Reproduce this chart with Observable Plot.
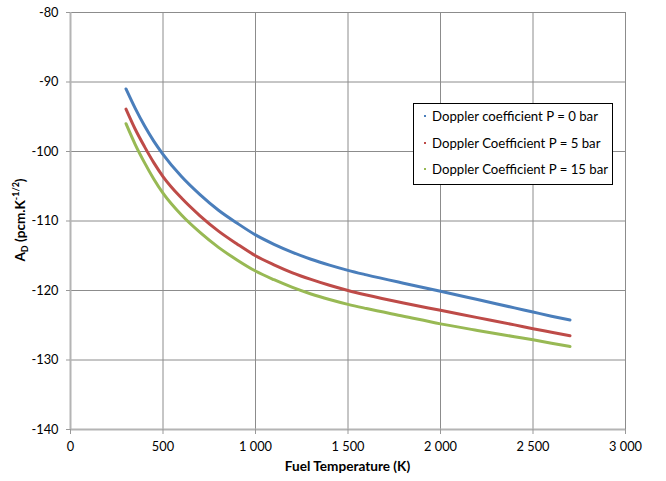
<!DOCTYPE html>
<html>
<head>
<meta charset="utf-8">
<script src="https://cdn.jsdelivr.net/npm/d3@7"></script>
<script src="https://cdn.jsdelivr.net/npm/@observablehq/plot@0.6"></script>
<style>
  body { margin: 0; background: #fff; }
  #wrap { position: relative; width: 666px; height: 481px; font-family: Lato, "Open Sans", sans-serif; }
  #legend { position: absolute; left: 413px; top: 103px; width: 198px; height: 80px;
    border: 1.5px solid #000; background: #fff; font-size: 13.2px; color: #000; }
  .row { position: absolute; left: 0; height: 16px; line-height: 16px; }
  .mk { position: absolute; left: 10px; top: 7px; width: 2px; height: 2px; }
  .lb { position: absolute; left: 18px; top: 0; white-space: nowrap; }
</style>
</head>
<body>
<div id="wrap"></div>
<script>
// Fuel temperature (K)
const temps = [300, 350, 400, 450, 500, 600, 700, 800, 900, 1000, 1100, 1200, 1300, 1400, 1500, 1600, 1800, 2000, 2200, 2400, 2500, 2600, 2700];
// Doppler coefficient (pcm.K^-1/2)
const p0bar  = [-91.0, -93.8, -96.3, -98.5, -100.4, -103.6, -106.2, -108.45, -110.3, -112.0, -113.35, -114.5, -115.5, -116.35, -117.1, -117.75, -118.95, -120.1, -121.3, -122.5, -123.1, -123.7, -124.25];
const p5bar  = [-93.9, -96.8, -99.3, -101.6, -103.6, -106.7, -109.25, -111.45, -113.3, -115.0, -116.3, -117.45, -118.4, -119.25, -120.0, -120.65, -121.8, -122.85, -123.9, -124.95, -125.5, -126.0, -126.5];
const p15bar = [-96.0, -99.0, -101.6, -103.95, -106.0, -109.15, -111.65, -113.8, -115.6, -117.2, -118.45, -119.55, -120.5, -121.3, -122.0, -122.6, -123.7, -124.8, -125.75, -126.65, -127.1, -127.6, -128.05];
const seriesNames = ["Doppler coefficient P = 0 bar", "Doppler Coefficient P = 5 bar", "Doppler Coefficient P = 15 bar"];
const seriesColors = ["#4a7ebb", "#be4b48", "#98b954"];
const xTicks = [0, 500, 1000, 1500, 2000, 2500, 3000];
const yTicks = [-140, -130, -120, -110, -100, -90, -80];

const seriesValues = [p0bar, p5bar, p15bar];
const data = seriesValues.flatMap((vals, i) => temps.map((t, j) => ({T: t, v: vals[j], s: seriesNames[i]})));

const fmt = d3.formatLocale({decimal: ",", thousands: "\u00a0", grouping: [3], currency: ["", ""]}).format(",d");

const chart = Plot.plot({
  width: 666,
  height: 481,
  marginTop: 12,
  marginBottom: 52,
  marginLeft: 70,
  marginRight: 41,
  style: {fontFamily: "Lato, 'Open Sans', sans-serif", fontSize: "12.8px", color: "#000", background: "#fff"},
  x: {domain: [0, 3000]},
  y: {domain: [-140, -80]},
  color: {domain: seriesNames, range: seriesColors},
  marks: [
    Plot.gridX(xTicks, {stroke: "#8c8c8c", strokeOpacity: 1}),
    Plot.gridY(yTicks, {stroke: "#8c8c8c", strokeOpacity: 1}),
    Plot.ruleX([0], {stroke: "#b4b4b4", strokeWidth: 2}),
    Plot.ruleY([-140], {stroke: "#b4b4b4", strokeWidth: 2}),
    Plot.axisX({ticks: xTicks, tickFormat: fmt, tickSize: 5, tickPadding: 7, stroke: "#999", label: null}),
    Plot.axisY({ticks: yTicks, tickFormat: d => String(d), tickSize: 4, tickPadding: 8, stroke: "#999", label: null}),
    Plot.line(data, {x: "T", y: "v", z: "s", stroke: "s", strokeWidth: 3, curve: "monotone-x"})
  ]
});

const svg = d3.select(chart);
svg.append("text")
  .attr("x", 347.5).attr("y", 471)
  .attr("text-anchor", "middle")
  .attr("font-weight", "bold").attr("font-size", 13.6)
  .text("Fuel Temperature (K)");

const yl = svg.append("text")
  .attr("transform", "translate(25,220) rotate(-90)")
  .attr("text-anchor", "middle")
  .attr("font-weight", "bold").attr("font-size", 13.6);
yl.append("tspan").text("A");
yl.append("tspan").attr("font-size", 9).attr("dy", 3).text("D");
yl.append("tspan").attr("dy", -3).text(" (pcm.K");
yl.append("tspan").attr("font-size", 9).attr("dy", -6).text("-1/2");
yl.append("tspan").attr("dy", 6).text(")");

const wrap = document.getElementById("wrap");
wrap.appendChild(chart);

const legend = document.createElement("div");
legend.id = "legend";
seriesNames.forEach((name, i) => {
  const row = document.createElement("div");
  row.className = "row";
  row.style.top = (4 + i * 26.7) + "px";
  const mk = document.createElement("div");
  mk.className = "mk";
  mk.style.background = seriesColors[i];
  const lb = document.createElement("div");
  lb.className = "lb";
  lb.textContent = name;
  row.appendChild(mk);
  row.appendChild(lb);
  legend.appendChild(row);
});
wrap.appendChild(legend);
</script>
</body>
</html>
